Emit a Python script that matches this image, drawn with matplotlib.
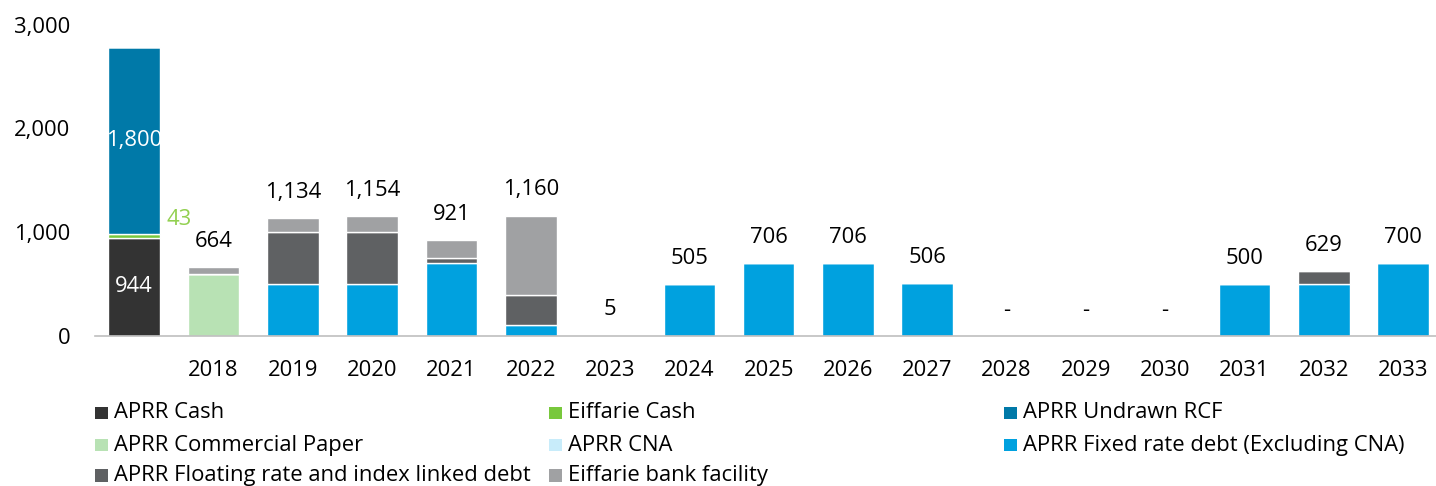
import matplotlib
matplotlib.use("Agg")
import matplotlib.pyplot as plt
from matplotlib.patches import Rectangle
from matplotlib.ticker import FuncFormatter
import numpy as np

plt.rcParams['font.family'] = ['Open Sans', 'DejaVu Sans']

categories = ["", "2018", "2019", "2020", "2021", "2022", "2023", "2024", "2025",
              "2026", "2027", "2028", "2029", "2030", "2031", "2032", "2033"]

aprr_cash        = [944, 0, 0, 0, 0, 0, 0, 0, 0, 0, 0, 0, 0, 0, 0, 0, 0]
eiffarie_cash    = [43, 0, 0, 0, 0, 0, 0, 0, 0, 0, 0, 0, 0, 0, 0, 0, 0]
aprr_undrawn_rcf = [1800, 0, 0, 0, 0, 0, 0, 0, 0, 0, 0, 0, 0, 0, 0, 0, 0]
aprr_cp          = [0, 600, 0, 0, 0, 0, 0, 0, 0, 0, 0, 0, 0, 0, 0, 0, 0]
aprr_cna         = [0, 0, 0, 0, 0, 0, 5, 0, 0, 0, 0, 0, 0, 0, 0, 0, 0]
aprr_fixed       = [0, 0, 500, 500, 700, 110, 0, 505, 706, 706, 506, 0, 0, 0, 500, 500, 700]
aprr_floating    = [0, 0, 500, 500, 55, 285, 0, 0, 0, 0, 0, 0, 0, 0, 0, 129, 0]
eiffarie_bank    = [0, 64, 134, 154, 166, 765, 0, 0, 0, 0, 0, 0, 0, 0, 0, 0, 0]

series_names = ["APRR Cash", "Eiffarie Cash", "APRR Undrawn RCF", "APRR Commercial Paper",
                "APRR CNA", "APRR Fixed rate debt (Excluding CNA)",
                "APRR Floating rate and index linked debt", "Eiffarie bank facility"]
series_values = [aprr_cash, eiffarie_cash, aprr_undrawn_rcf, aprr_cp, aprr_cna,
                 aprr_fixed, aprr_floating, eiffarie_bank]
colors = ["#333333", "#78c83c", "#0079a8", "#b8e2b4", "#c8ecfa", "#00a1df",
          "#5f6163", "#a0a1a3"]

FS = 15.8
W, H = 1436, 486
fig = plt.figure(figsize=(W / 100, H / 100), dpi=100)
ax_left = 94.6
ax_w = 79.3 * 17
ax_top = 24.5
ax_bot = 336.0
ax = fig.add_axes([ax_left / W, 1 - ax_bot / H, ax_w / W, (ax_bot - ax_top) / H])

x = np.arange(len(categories))
bottom = np.zeros(len(categories))
for name, vals, c in zip(series_names, series_values, colors):
    v = np.array(vals, dtype=float)
    ax.bar(x, v, width=0.65, bottom=bottom, color=c, edgecolor="white",
           linewidth=1.0, label=name)
    bottom += v

ax.set_xlim(-0.5, len(categories) - 0.5)
ax.set_ylim(0, 3000)
ax.set_yticks([0, 1000, 2000, 3000])
ax.yaxis.set_major_formatter(FuncFormatter(lambda v, p: f"{int(v):,}"))
ax.set_xticks(x)
ax.set_xticklabels(categories)
ax.tick_params(axis="both", length=0, labelsize=FS, colors="black")
ax.tick_params(axis="x", pad=17)
ax.tick_params(axis="y", pad=17.5)
for s in ["left", "right", "top"]:
    ax.spines[s].set_visible(False)
ax.spines["bottom"].set_color("#bfbfbf")
ax.spines["bottom"].set_linewidth(1.2)

# totals above bars (except the liquidity bar)
for i in range(1, len(categories)):
    tot = bottom[i]
    lab = f"{int(round(tot)):,}" if tot > 0 else "-"
    ax.annotate(lab, (x[i], tot), xytext=(0, 18.4), textcoords="offset points",
                ha="center", va="center", fontsize=FS, color="black")

# liquidity bar labels
ax.text(x[0], aprr_cash[0] / 2, f"{aprr_cash[0]:,}", ha="center", va="center",
        fontsize=FS, color="white")
ax.text(x[0], aprr_cash[0] + eiffarie_cash[0] + aprr_undrawn_rcf[0] / 2,
        f"{aprr_undrawn_rcf[0]:,}", ha="center", va="center", fontsize=FS, color="white")
ax.annotate(f"{eiffarie_cash[0]:,}", (x[0] + 0.325, aprr_cash[0] + eiffarie_cash[0]),
            xytext=(5, 10.4), textcoords="offset points", ha="left", va="center",
            fontsize=FS, color="#92d050")

# manual legend (row-major, 3 columns)
col_x = [95, 549, 1004]
row_y = [413, 445, 475.5]
msz = 12.5
for k, (name, c) in enumerate(zip(series_names, colors)):
    r, cidx = divmod(k, 3)
    px, py = col_x[cidx], row_y[r]
    fig.add_artist(Rectangle((px / W, 1 - (py + msz / 2) / H), msz / W, msz / H,
                             transform=fig.transFigure, facecolor=c, edgecolor="none"))
    fig.text((px + msz + 6.5) / W, 1 - py / H, name, ha="left", va="center",
             fontsize=FS, color="black")

fig.savefig("out.png", dpi=100)
